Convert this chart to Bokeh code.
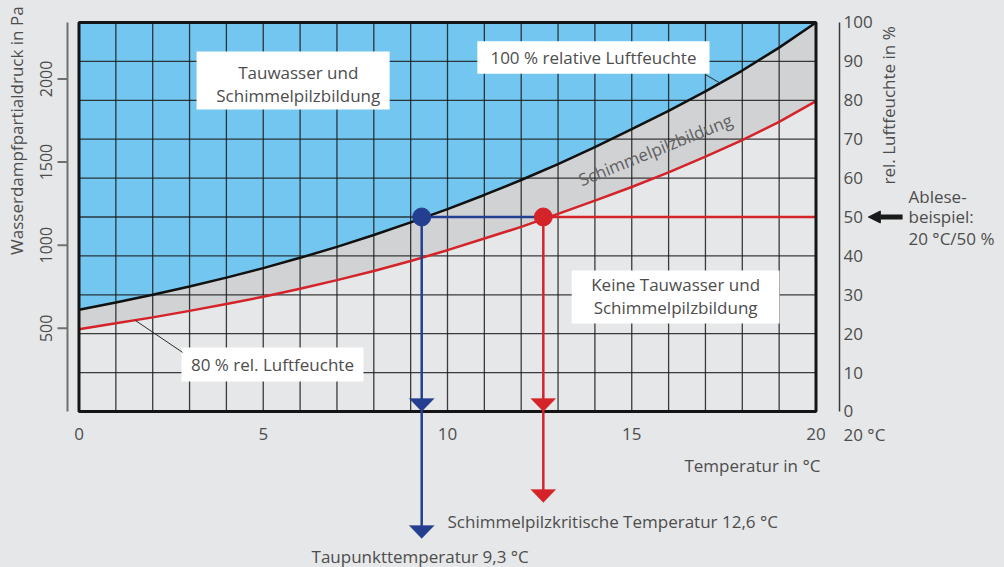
import math
from bokeh.plotting import figure
from bokeh.models import (Range1d, Label, Arrow, NormalHead, PolyAnnotation)
from bokeh.core.properties import value
from bokeh.embed import file_html
from bokeh.resources import INLINE

# ---------------- data ----------------
temps = list(range(21))                      # °C
p_sat = [612, 655, 702, 752, 805, 862, 924, 990, 1061, 1137, 1217,
         1302, 1392, 1488, 1590, 1698, 1808, 1925, 2050, 2188, 2339]   # 100 % r.F. (Pa)
p_80 = [495, 530, 566, 605, 646, 690, 738, 790, 845, 905, 970,
        1040, 1110, 1188, 1268, 1350, 1438, 1532, 1632, 1742, 1866]   # 80 % r.F. (Pa)
pa_ticks = [500, 1000, 1500, 2000]
rh_ticks = [0, 10, 20, 30, 40, 50, 60, 70, 80, 90, 100]
t_ticks = [0, 5, 10, 15, 20]
grid_t = list(range(1, 20))
grid_rh = [10, 20, 30, 40, 50, 60, 70, 80, 90]
room_t = 20          # Ablesebeispiel 20 °C
room_rh = 50         # / 50 %
dew_t = 9.3          # Taupunkttemperatur
mould_t = 12.6       # Schimmelpilzkritische Temperatur
p_max = 2339         # Sättigungsdruck bei 20 °C = 100 % der rechten Skala

# ---------------- style ----------------
FONT = "Open Sans"
TXT = "#4d4d4d"
BG = "#e6e7e8"
BLUE_FILL = "#72c6ef"
BAND = "#d1d2d4"
DBLUE = "#243f8f"
RED = "#d5232a"
GRIDC = "#1c1c1c"

pa_per_rh = p_max / 100.0
px_per_deg = 36.85
px_per_rh = 3.89

# the frame covers the whole canvas so that texts and arrows outside the
# diagram area are not clipped; axes are drawn in data coordinates
y_lo, y_hi = -40.103, 105.655
p = figure(width=1004, height=567,
           x_range=Range1d(-2.1303, 25.1153), y_range=Range1d(y_lo, y_hi),
           x_axis_location=None, y_axis_location=None,
           toolbar_location=None, output_backend="svg", title=None,
           min_border=0, min_border_left=0, min_border_right=0,
           min_border_top=0, min_border_bottom=0,
           background_fill_color=BG, border_fill_color=BG,
           outline_line_color=None)
p.extra_y_ranges = {"pa": Range1d(y_lo * pa_per_rh, y_hi * pa_per_rh)}
p.grid.visible = False

# fills
p.varea(x=temps, y1=p_sat, y2=[p_max] * len(temps), fill_color=BLUE_FILL,
        y_range_name="pa")
p.varea(x=temps, y1=p_80, y2=p_sat, fill_color=BAND, y_range_name="pa")

# grid
p.segment(x0=grid_t, y0=[0] * len(grid_t), x1=grid_t, y1=[100] * len(grid_t),
          line_color=GRIDC, line_width=1.3, line_alpha=0.85)
p.segment(x0=[0] * len(grid_rh), y0=grid_rh, x1=[20] * len(grid_rh), y1=grid_rh,
          line_color=GRIDC, line_width=1.3, line_alpha=0.85)

# curves
p.line(temps, p_80, line_color=RED, line_width=2.5, y_range_name="pa")
p.line(temps, p_sat, line_color="#111111", line_width=2.5, y_range_name="pa")

# example horizontal
p.line([dew_t, mould_t], [room_rh, room_rh], line_color=DBLUE, line_width=2.5)
p.line([mould_t, room_t], [room_rh, room_rh], line_color=RED, line_width=2.5)

# white label boxes
p.quad(left=[3.19, 10.81, 13.37, 2.78], right=[8.43, 17.11, 19.01, 7.72],
       top=[92.54, 95.19, 36.25, 16.45], bottom=[77.63, 86.81, 22.62, 7.71],
       fill_color="white", line_color=None)
# leader lines
p.segment(x0=[17.0, 1.53], y0=[86.6, 23.4], x1=[17.42, 2.81], y1=[84.3, 15.2],
          line_color="#2a2a2a", line_width=1)

# frame of the diagram
p.quad(left=[0], right=[20], bottom=[0], top=[100], fill_color=None,
       line_color="#151515", line_width=3)

# ---------------- axes (in data coordinates) ----------------
ax_l = -11.5 / px_per_deg          # left axis line offset from 0 °C
ax_r = 20 + 23.5 / px_per_deg      # right axis line offset from 20 °C
tick_len = 10 / px_per_deg
# left axis (Pa)
p.segment(x0=[ax_l], y0=[0], x1=[ax_l], y1=[p_max], line_color="#707070",
          line_width=2, y_range_name="pa")
p.segment(x0=[ax_l - tick_len] * len(pa_ticks), y0=pa_ticks,
          x1=[ax_l] * len(pa_ticks), y1=pa_ticks, line_color="#707070",
          line_width=2, y_range_name="pa")
p.text(x=[ax_l - tick_len - 11.5 / px_per_deg] * len(pa_ticks), y=pa_ticks,
       text=[str(t) for t in pa_ticks], angle=math.pi / 2, text_align="center",
       text_baseline="middle", text_font=value(FONT), text_font_size="16px",
       text_color=TXT, y_range_name="pa")
# right axis (% r.F.)
p.segment(x0=[ax_r], y0=[0], x1=[ax_r], y1=[100], line_color="#3a3a3a",
          line_width=1.5)
p.text(x=[ax_r + 4 / px_per_deg] * len(rh_ticks), y=rh_ticks,
       text=[str(t) for t in rh_ticks], text_align="left", text_baseline="middle",
       text_font=value(FONT), text_font_size="17px", text_color=TXT)
# bottom axis (°C)
p.text(x=t_ticks, y=[-23 / px_per_rh] * len(t_ticks),
       text=[str(t) for t in t_ticks], text_align="center", text_baseline="middle",
       text_font=value(FONT), text_font_size="17px", text_color=TXT)

# dots
p.scatter([dew_t], [room_rh], size=18, color=DBLUE)
p.scatter([mould_t], [room_rh], size=18, color=RED)

# vertical arrows
hw = 12.5 / px_per_deg
hh = 13.0 / px_per_rh
for x, tip, col in [(dew_t, -32.65, DBLUE), (mould_t, -23.39, RED)]:
    p.add_layout(Arrow(end=None, x_start=x, y_start=room_rh, x_end=x, y_end=tip + 2,
                       line_color=col, line_width=2.5))
    for t in (0, tip):
        p.add_layout(PolyAnnotation(xs=[x - hw, x + hw, x], ys=[t + hh, t + hh, t],
                                    fill_color=col, fill_alpha=1.0,
                                    line_color=col, line_width=1))

# Ablesebeispiel arrow
p.add_layout(Arrow(end=NormalHead(size=12, fill_color="#1a1a1a", line_color="#1a1a1a",
                                  line_width=1),
                   x_start=22.35, y_start=room_rh, x_end=21.42, y_end=room_rh,
                   line_color="#1a1a1a", line_width=5))


def lab(text, x, y, align="center", angle=0.0, color=TXT, size="17px"):
    p.add_layout(Label(text=text, x=x, y=y, angle=angle, text_align=align,
                       text_baseline="middle", text_font=FONT, text_font_size=size,
                       text_color=color))


lab("Wasserdampfpartialdruck in Pa", -1.70, 72.2, angle=math.pi / 2)
lab("rel. Luftfeuchte in %", 21.96, 78.7, angle=math.pi / 2)
lab("Tauwasser und", 5.95, 87.15)
lab("Schimmelpilzbildung", 5.95, 81.23)
lab("100 % relative Luftfeuchte", 13.96, 91.0)
lab("Schimmelpilzbildung", 15.64, 67.3, angle=math.radians(22), color="#606060")
lab("Keine Tauwasser und", 16.19, 32.65)
lab("Schimmelpilzbildung", 16.19, 26.74)
lab("80 % rel. Luftfeuchte", 5.25, 12.08)
lab("Ablese-", 22.51, 55.3, align="left")
lab("beispiel:", 22.51, 50.0, align="left")
lab("20 °C/50 %", 22.51, 44.6, align="left")
lab("20 °C", ax_r + 4 / px_per_deg, -23 / px_per_rh, align="left")
lab("Temperatur in °C", 20.12, -13.88, align="right")
lab("Schimmelpilzkritische Temperatur 12,6 °C", 10.0, -28.28, align="left")
lab("Taupunkttemperatur 9,3 °C", 6.31, -37.28, align="left")

html = file_html(p, INLINE)
k = html.rfind("</head>")
if k >= 0:
    html = (html[:k] + "<style>html,body{background:#e6e7e8;overflow:hidden;}</style>"
            + html[k:])
open("out.html", "w").write(html)
